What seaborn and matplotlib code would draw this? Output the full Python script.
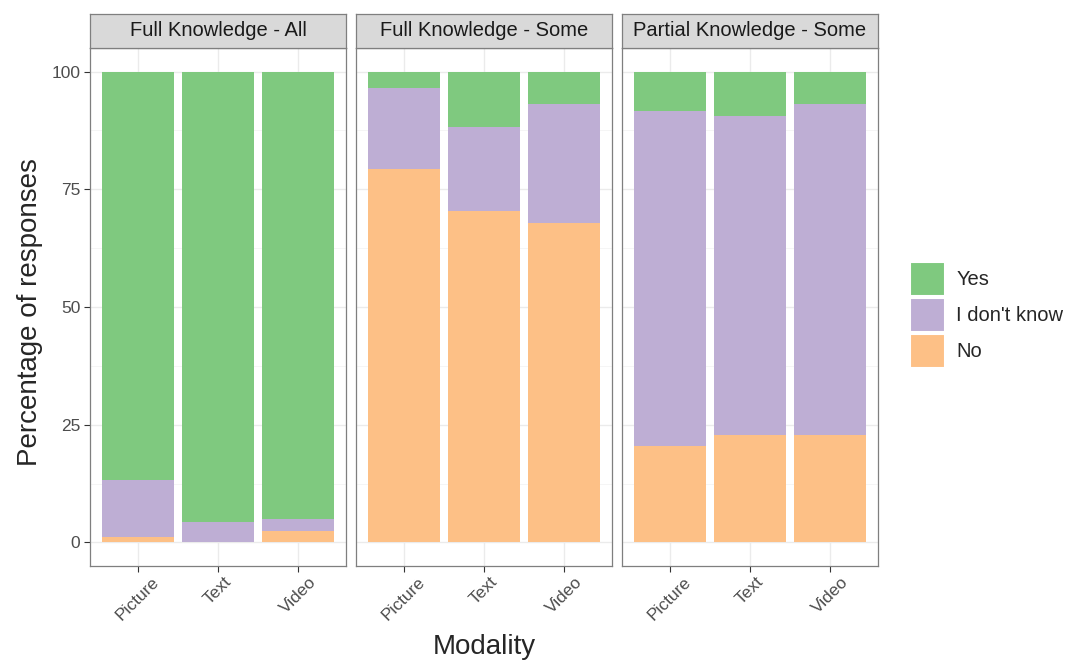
import seaborn as sns
import matplotlib.pyplot as plt
import matplotlib.patches as mpatches
import numpy as np
import pandas as pd

# Data (percent of responses)
panels = ["Full Knowledge - All", "Full Knowledge - Some", "Partial Knowledge - Some"]
modalities = ["Picture", "Text", "Video"]
no_pct = [[1.2, 0.0, 2.4], [79.2, 70.4, 67.9], [20.5, 22.8, 22.8]]
idk_pct = [[12.0, 4.4, 2.5], [17.3, 17.9, 25.3], [71.1, 67.8, 70.4]]
yes_pct = [[86.8, 95.6, 95.1], [3.5, 11.7, 6.8], [8.4, 9.4, 6.8]]

answers = ["Yes", "I don't know", "No"]
colors = {"Yes": "#7FC97F", "I don't know": "#BEAED4", "No": "#FDC086"}

rows = []
for p, panel in enumerate(panels):
    for m, mod in enumerate(modalities):
        rows.append({"panel": panel, "Modality": mod, "No": no_pct[p][m],
                     "I don't know": idk_pct[p][m], "Yes": yes_pct[p][m]})
df = pd.DataFrame(rows)
# cumulative tops for stacking
df["top_No"] = df["No"]
df["top_I don't know"] = df["No"] + df["I don't know"]
df["top_Yes"] = df["top_I don't know"] + df["Yes"]

sns.set_style("white")
plt.rcParams['font.family'] = ['Liberation Sans', 'DejaVu Sans']

W, H = 1068, 662
fig = plt.figure(figsize=(W / 100, H / 100), dpi=100)

lefts = [90, 356, 622]
pw = 256
top_px, bot_px, strip_h = 48, 566, 34
edge = "#333333"

for i, panel in enumerate(panels):
    ax = fig.add_axes([lefts[i] / W, 1 - bot_px / H, pw / W, (bot_px - top_px) / H])
    sub = df[df["panel"] == panel]
    ax.set_axisbelow(True)
    for a in answers:  # draw tallest first
        sns.barplot(data=sub, x="Modality", y="top_" + a, order=modalities,
                    color=colors[a], width=0.9, saturation=1, ax=ax,
                    edgecolor="none", linewidth=0)
    ax.set_xlim(-0.6, 2.6)
    ax.set_ylim(-5, 105)
    ax.set_yticks([0, 25, 50, 75, 100])
    ax.set_yticks([12.5, 37.5, 62.5, 87.5], minor=True)
    ax.grid(True, which="major", color="#EBEBEB", linewidth=1.0)
    ax.grid(True, which="minor", axis="y", color="#F4F4F4", linewidth=0.6)
    ax.set_xlabel("")
    ax.set_ylabel("")
    for s in ax.spines.values():
        s.set_color("#7F7F7F")
        s.set_linewidth(0.9)
    ax.tick_params(axis="x", which="major", length=4, color=edge, labelsize=12.5,
                   labelcolor="#4D4D4D", rotation=45, bottom=True, pad=2)
    for lbl in ax.get_xticklabels():
        lbl.set_ha("center")
        lbl.set_va("top")
    ax.tick_params(axis="y", which="minor", length=0)
    if i == 0:
        ax.tick_params(axis="y", which="major", length=4, color=edge, labelsize=12.5,
                       labelcolor="#4D4D4D", left=True, pad=3)
    else:
        ax.tick_params(axis="y", which="major", length=0, labelleft=False)

    # facet strip
    sax = fig.add_axes([lefts[i] / W, 1 - top_px / H, pw / W, strip_h / H])
    sax.set_facecolor("#D9D9D9")
    sax.set_xticks([])
    sax.set_yticks([])
    for s in sax.spines.values():
        s.set_color("#7F7F7F")
        s.set_linewidth(0.9)
    sax.text(0.5, 0.5, panel, ha="center", va="center", fontsize=14.5,
             color="#1A1A1A", transform=sax.transAxes)

fig.text(30 / W, 1 - 312 / H, "Percentage of responses", rotation=90,
         ha="center", va="center", fontsize=20)
fig.text(484 / W, 1 - 647 / H, "Modality", ha="center", va="center", fontsize=20)

handles = [mpatches.Patch(facecolor=colors[a], edgecolor="white", linewidth=1.5, label=a)
           for a in answers]
fig.legend(handles=handles, loc="center left", bbox_to_anchor=(910 / W, 1 - 315 / H),
           frameon=False, fontsize=14.5, handlelength=1.75, handleheight=2.2,
           labelspacing=0.12, handletextpad=0.55, borderaxespad=0, borderpad=0)

fig.savefig("out.png", dpi=100, facecolor="white")
